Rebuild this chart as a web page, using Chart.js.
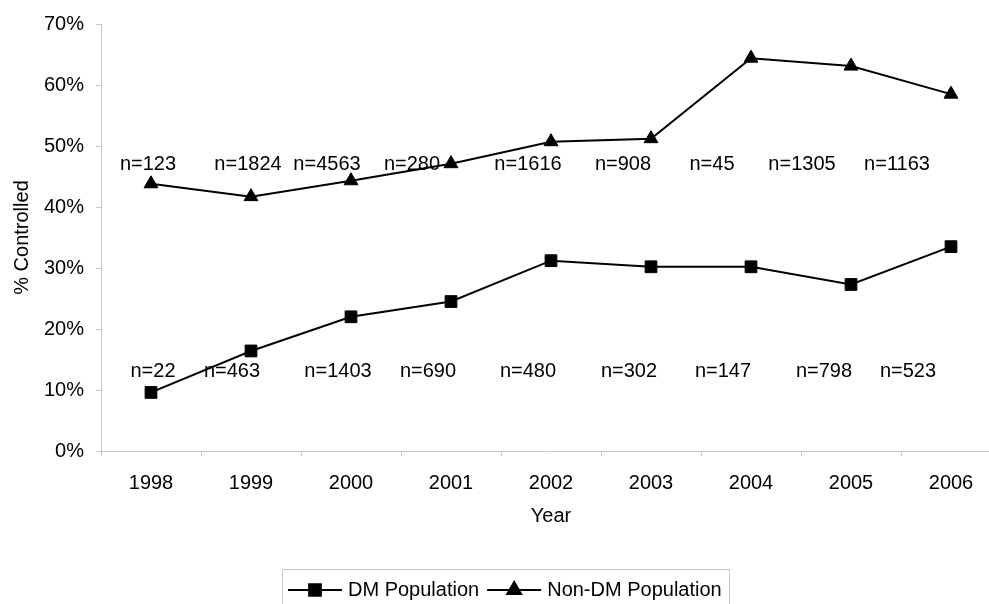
<!DOCTYPE html>
<html>
<head>
<meta charset="utf-8">
<title>% Controlled by Year</title>
<script src="https://cdn.jsdelivr.net/npm/chart.js@4.4.1/dist/chart.umd.min.js"></script>
<style>
  html, body { margin: 0; padding: 0; background: #fff; overflow: hidden; }
  /* the plot runs a little past the right edge of the picture, as in the source */
  #wrap { width: 989px; height: 604px; overflow: hidden; }
  #chart { display: block; }
</style>
</head>
<body>
<div id="wrap">
<canvas id="chart" width="1001" height="604" style="width:1001px;height:604px"></canvas>
</div>
<script>
"use strict";

// Data
const years = ["1998", "1999", "2000", "2001", "2002", "2003", "2004", "2005", "2006"];
const dmControlled = [9.6, 16.4, 22.0, 24.5, 31.2, 30.2, 30.2, 27.3, 33.5];
const nonDmControlled = [43.8, 41.7, 44.3, 47.1, 50.7, 51.2, 64.4, 63.1, 58.5];
const dmCounts = [22, 463, 1403, 690, 480, 302, 147, 798, 523];
const nonDmCounts = [123, 1824, 4563, 280, 1616, 908, 45, 1305, 1163];
const yTicks = [0, 10, 20, 30, 40, 50, 60, 70];

// where the n= labels sit, in category units / percent
const nonDmLabelX = [-0.03, 0.97, 1.76, 2.61, 3.77, 4.72, 5.61, 6.51, 7.46];
const dmLabelX = [0.02, 0.81, 1.87, 2.77, 3.77, 4.78, 5.72, 6.73, 7.57];
const nonDmLabelY = 47.05;
const dmLabelY = 13.0;

const FONT = "'Liberation Sans', Arial, Helvetica, sans-serif";
const AXIS_GREY = "#c8c8c8";

Chart.defaults.font.family = FONT;
Chart.defaults.color = "#000";

// n= annotations, drawn under the lines
const countLabels = {
  id: "countLabels",
  beforeDatasetsDraw(chart) {
    const { ctx, scales: { x, y } } = chart;
    ctx.save();
    ctx.font = "20px " + FONT;
    ctx.fillStyle = "#000";
    ctx.textAlign = "center";
    ctx.textBaseline = "middle";
    nonDmCounts.forEach((n, i) => {
      ctx.fillText("n=" + n, x.getPixelForValue(nonDmLabelX[i]), y.getPixelForValue(nonDmLabelY));
    });
    dmCounts.forEach((n, i) => {
      ctx.fillText("n=" + n, x.getPixelForValue(dmLabelX[i]), y.getPixelForValue(dmLabelY));
    });
    ctx.restore();
  },
};

// Excel-style legend: line with marker, boxed
const boxLegend = {
  id: "boxLegend",
  afterDraw(chart) {
    const ctx = chart.ctx;
    const boxLeft = 282.5, boxTop = 569.5, boxRight = 729.5, boxBottom = 620;
    const cy = 590;
    ctx.save();
    ctx.strokeStyle = AXIS_GREY;
    ctx.lineWidth = 1;
    ctx.strokeRect(boxLeft, boxTop, boxRight - boxLeft, boxBottom - boxTop);

    ctx.font = "20px " + FONT;
    ctx.textAlign = "left";
    ctx.textBaseline = "middle";
    let xPos = 288;
    chart.data.datasets.forEach((ds) => {
      const lineLen = 54;
      ctx.strokeStyle = "#000";
      ctx.lineWidth = 2;
      ctx.beginPath();
      ctx.moveTo(xPos, cy);
      ctx.lineTo(xPos + lineLen, cy);
      ctx.stroke();
      ctx.fillStyle = "#000";
      Chart.helpers.drawPoint(ctx, {
        pointStyle: ds.pointStyle,
        radius: ds.pointRadius,
        rotation: 0,
        borderWidth: 1,
      }, xPos + lineLen / 2, cy);
      ctx.fillStyle = "#000";
      const tx = xPos + lineLen + 6;
      ctx.fillText(ds.label, tx, cy);
      xPos = tx + ctx.measureText(ds.label).width + 8;
    });
    ctx.restore();
  },
};

new Chart(document.getElementById("chart"), {
  type: "line",
  data: {
    labels: years,
    datasets: [
      {
        label: "DM Population",
        data: dmControlled,
        borderColor: "#000",
        backgroundColor: "#000",
        borderWidth: 2,
        pointStyle: "rect",
        pointRadius: 8.3,
        pointBorderWidth: 1,
        pointBorderColor: "#000",
        pointBackgroundColor: "#000",
        tension: 0,
        clip: false,
      },
      {
        label: "Non-DM Population",
        data: nonDmControlled,
        borderColor: "#000",
        backgroundColor: "#000",
        borderWidth: 2,
        pointStyle: "triangle",
        pointRadius: 8,
        pointBorderWidth: 1,
        pointBorderColor: "#000",
        pointBackgroundColor: "#000",
        tension: 0,
        clip: false,
      },
    ],
  },
  options: {
    responsive: false,
    animation: false,
    layout: {
      autoPadding: false,
      padding: { top: 23, right: 0, left: 0, bottom: 73 },
    },
    plugins: {
      legend: { display: false },
      tooltip: { enabled: false },
    },
    scales: {
      x: {
        type: "category",
        offset: true,
        grid: {
          offset: true,
          drawOnChartArea: false,
          color: AXIS_GREY,
          tickLength: 5,
        },
        border: { color: AXIS_GREY, width: 1 },
        ticks: {
          color: "#000",
          font: { size: 20 },
          padding: 15,
          maxRotation: 0,
        },
        title: {
          display: true,
          text: "Year",
          color: "#000",
          font: { size: 20 },
          padding: { top: 3, bottom: 3 },
        },
        afterFit(scale) {
          scale.height = 80;
          scale.paddingLeft = 0;
          scale.paddingRight = 0;
        },
      },
      y: {
        min: 0,
        max: 70,
        afterBuildTicks(scale) { scale.ticks = yTicks.map((v) => ({ value: v })); },
        grid: {
          drawOnChartArea: false,
          color: AXIS_GREY,
          tickLength: 5,
        },
        border: { color: AXIS_GREY, width: 1 },
        ticks: {
          color: "#000",
          font: { size: 20 },
          padding: 12,
          callback: (v) => v + "%",
        },
        title: {
          display: true,
          text: "% Controlled",
          color: "#000",
          font: { size: 20 },
          padding: { top: 10, bottom: 0 },
        },
        afterFit(scale) { scale.width = 101; },
      },
    },
  },
  plugins: [countLabels, boxLegend],
});
</script>
</body>
</html>
